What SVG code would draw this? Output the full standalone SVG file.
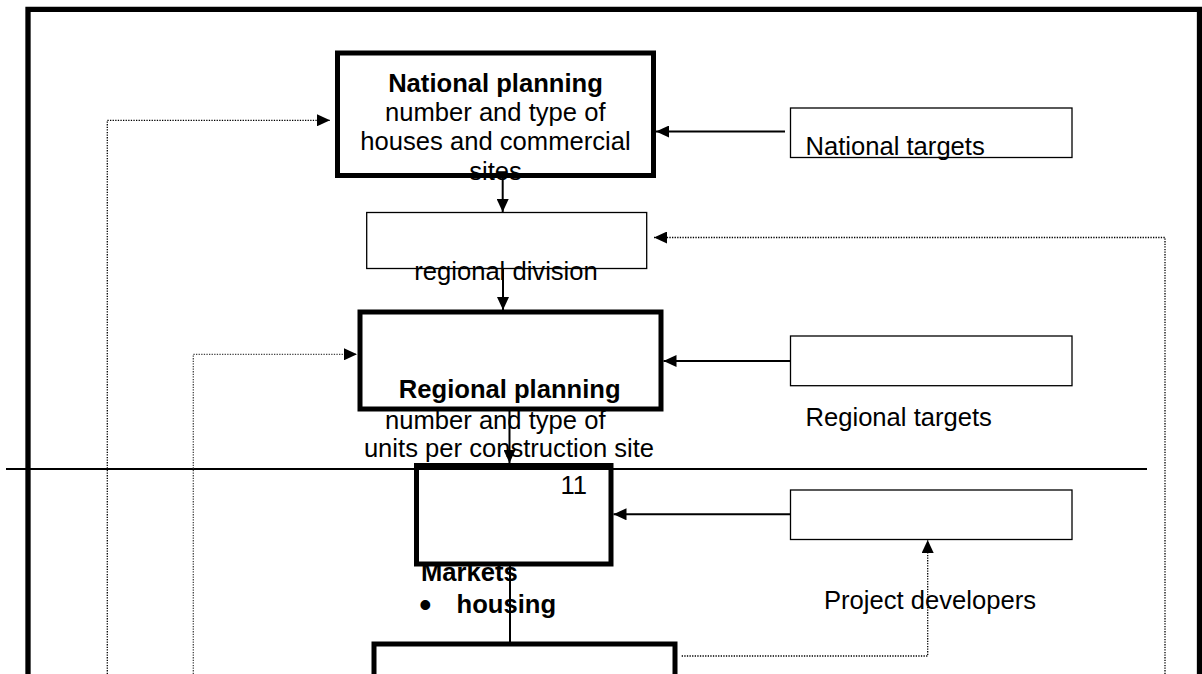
<svg xmlns="http://www.w3.org/2000/svg" width="1202" height="674" viewBox="0 0 1202 674">
<defs>
<marker id="ah" markerUnits="userSpaceOnUse" markerWidth="13" markerHeight="12" refX="13" refY="6" orient="auto">
<path d="M0,0 L13,6 L0,12 z" fill="#000"/>
</marker>
<style>
text{font-family:"Liberation Sans",Arial,sans-serif;font-size:25.6px;fill:#000}
.b{font-weight:bold}
.thick{fill:none;stroke:#000;stroke-width:5}
.thin{fill:none;stroke:#000;stroke-width:1.3}
.sol{fill:none;stroke:#000;stroke-width:2}
.dot{fill:none;stroke:#000;stroke-width:1.3;stroke-dasharray:1.3 1.3}
</style>
</defs>
<rect width="1202" height="674" fill="#fff"/>
<g id="frame">
<path d="M28,674 V9.3 H1199.5 V674" fill="none" stroke="#000" stroke-width="5.3"/>
<line x1="6" y1="469" x2="1147" y2="469" stroke="#000" stroke-width="2"/>
</g>
<g id="national-planning">
<text class="b" x="495.5" y="91.5" text-anchor="middle">National planning</text>
<text x="385" y="120.5">number and type of</text>
<text x="495.5" y="150" text-anchor="middle">houses and commercial</text>
<text x="495.5" y="179.5" text-anchor="middle">sites</text>
<rect class="thick" x="337.5" y="53" width="316" height="122.5"/>
</g>
<g id="national-targets">
<text x="805.5" y="155">National targets</text>
<rect class="thin" x="790.5" y="108" width="281.5" height="49.5"/>
</g>
<g id="regional-division">
<text x="506" y="280" text-anchor="middle">regional division</text>
<rect class="thin" x="366.7" y="212.5" width="280" height="56"/>
</g>
<g id="regional-planning">
<text class="b" x="509.7" y="397.5" text-anchor="middle">Regional planning</text>
<text x="385" y="428.5">number and type of</text>
<text x="509" y="457" text-anchor="middle">units per construction site</text>
<rect class="thick" x="360" y="312" width="301" height="97"/>
</g>
<g id="regional-targets">
<rect class="thin" x="790.5" y="336" width="281.5" height="49.7"/>
<text x="805.5" y="426">Regional targets</text>
</g>
<g id="markets">
<text x="560.5" y="494">11</text>
<text class="b" x="421" y="581">Markets</text>
<text x="419" y="617" style="font-size:36px">•</text>
<text class="b" x="456.6" y="613">housing</text>
<rect class="thick" x="416.5" y="465.5" width="194.5" height="98.5"/>
</g>
<g id="project-developers">
<rect class="thin" x="790.5" y="490" width="281.5" height="49.5"/>
<text x="824" y="609">Project developers</text>
</g>
<g id="bottom-box">
<rect class="thick" x="374" y="644" width="301" height="60"/>
</g>
<g id="connectors">
<line class="sol" x1="785" y1="131.5" x2="656" y2="131.5" marker-end="url(#ah)"/>
<line class="sol" x1="502.7" y1="178" x2="502.7" y2="212" marker-end="url(#ah)"/>
<line class="sol" x1="503" y1="268.5" x2="503" y2="310" marker-end="url(#ah)"/>
<line class="sol" x1="791" y1="361" x2="663.5" y2="361" marker-end="url(#ah)"/>
<line class="sol" x1="509.5" y1="411" x2="509.5" y2="463" marker-end="url(#ah)"/>
<line class="sol" x1="791" y1="514.3" x2="613.5" y2="514.3" marker-end="url(#ah)"/>
<line class="sol" x1="510" y1="642" x2="510" y2="566"/>
<path class="dot" d="M107.3,674 V120.3 H330" marker-end="url(#ah)"/>
<path class="dot" d="M193.3,674 V354.3 H357" marker-end="url(#ah)" style="stroke:#444"/>
<path class="dot" d="M1165,674 V237.5 H654" marker-end="url(#ah)"/>
<path class="dot" d="M681.7,656 H927.7 V540" marker-end="url(#ah)"/>
</g>
</svg>
